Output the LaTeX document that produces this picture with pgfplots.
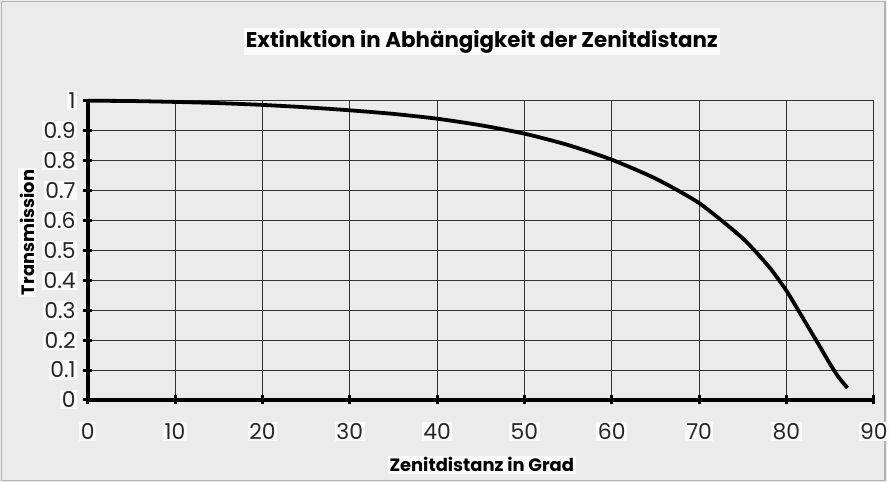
\documentclass[border=0pt]{standalone}
\usepackage{fontspec}
\setmainfont{Poppins}
\usepackage{pgfplots}
\pgfplotsset{compat=1.18}
\begin{document}
\begin{tikzpicture}[x=1bp,y=1bp]
\fill[gray!16] (0,0) rectangle (889,483);
\draw[gray!60, line width=1.5bp] (1.5,1.5) rectangle (887.5,481.5);
\begin{axis}[
  at={(88bp,82bp)}, anchor=south west,
  scale only axis, width=788bp, height=300bp,
  xmin=0, xmax=90, ymin=0, ymax=1,
  axis lines=left,
  axis line style={-, line width=3.5bp, black},
  xtick={0,10,20,30,40,50,60,70,80,90},
  ytick={0,0.1,0.2,0.3,0.4,0.5,0.6,0.7,0.8,0.9,1},
  grid=major,
  grid style={black!80, line width=0.8bp},
  tick align=center, major tick length=9bp,
  tick style={line width=3bp, black},
  /pgf/number format/assume math mode=true,
  ticklabel style={font=\fontsize{22}{22}\selectfont, text=black!85, fill=gray!4, inner sep=1.5bp},
  yticklabel style={/pgf/number format/fixed, /pgf/number format/precision=1, xshift=-6bp},
  xticklabel style={yshift=-17bp},
  clip=false,
]
\addplot[black, line width=3.8bp, smooth, tension=0.4] coordinates {
(0,1.0) (5,0.999) (10,0.996) (15,0.992) (20,0.986) (25,0.978) (30,0.968)
(35,0.956) (40,0.940) (45,0.918) (50,0.890) (55,0.852) (60,0.803)
(65,0.740) (70,0.658) (75,0.540) (78,0.445) (80,0.365) (82,0.268)
(84,0.170) (85,0.120) (86,0.075) (87,0.040)
};
\end{axis}
\node[font=\bfseries\fontsize{21.5}{21.5}\selectfont, fill=gray!4, inner sep=2bp] at (483,441) {Extinktion in Abhängigkeit der Zenitdistanz};
\node[font=\bfseries\fontsize{18}{18}\selectfont, fill=gray!4, inner sep=2bp] at (483,17) {Zenitdistanz in Grad};
\node[rotate=90, font=\bfseries\fontsize{18}{18}\selectfont, fill=gray!4, inner sep=2bp] at (27,250) {Transmission};
\end{tikzpicture}
\end{document}
